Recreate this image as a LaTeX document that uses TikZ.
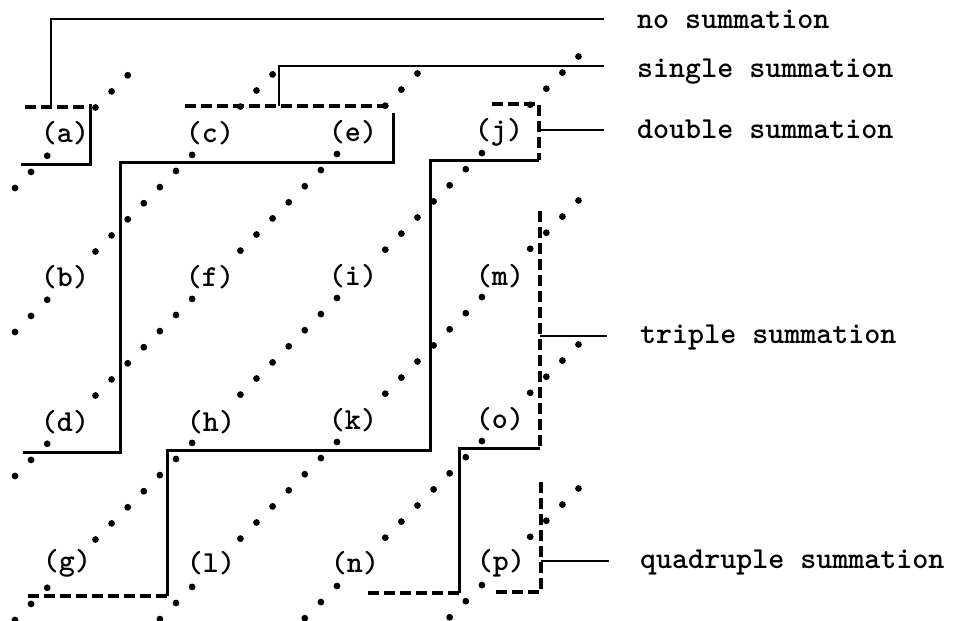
\documentclass[tikz,border=0pt]{standalone}
\newcommand\mylabfont{\ttfamily\bfseries\fontsize{30.5}{36}\selectfont}
\begin{document}
\begin{tikzpicture}[x=1pt,y=-1pt,
  rule/.style={line width=3pt},
  dashrule/.style={line width=3.1pt, dash pattern=on 11pt off 5pt},
  lead/.style={line width=2.6pt},
  lab/.style={font=\mylabfont, inner sep=0pt},
  leg/.style={font=\mylabfont, anchor=base west, inner sep=0pt}]
\fill[white] (0,0) rectangle (953,621);
\useasboundingbox (0,0) rectangle (953,621);

% diagonal dot lines
\foreach \k/\ja/\jb in {0/0/7, 1/0/16, 2/0/25, 3/0/35, 4/9/35, 5/18/35, 6/27/35} {
  \foreach \j in {\ja,...,\jb} {
    \pgfmathtruncatemacro\dm{mod(\j,9)}
    \pgfmathtruncatemacro\dc{int(\j/9)}
    \pgfmathtruncatemacro\dr{\k-\dc}
    \pgfmathtruncatemacro\dskip{((\dm==3)||(\dm==4))&&(\dr>=0)&&(\dr<=3)&&(\dc<=3) ? 1 : 0}
    \ifnum\dskip=0
      \fill ({15+16.1*\j},{188+144*\k-16.1*\j}) circle (3.4pt);
    \fi
  }
}

% labels
\node[lab] (a) at (65,133) {(a)};
\node[lab] (c) at (210,133) {(c)};
\node[lab] (e) at (353,132) {(e)};
\node[lab] (j) at (499,132) {(j)};
\node[lab] (b) at (65,277) {(b)};
\node[lab] (f) at (210,277) {(f)};
\node[lab] (i) at (353,276) {(i)};
\node[lab] (m) at (500,276) {(m)};
\node[lab] (d) at (65,422) {(d)};
\node[lab] (h) at (211,422) {(h)};
\node[lab] (k) at (353,420) {(k)};
\node[lab] (o) at (500,419) {(o)};
\node[lab] (g) at (67,563) {(g)};
\node[lab] (l) at (211,563) {(l)};
\node[lab] (n) at (355,563) {(n)};
\node[lab] (p) at (501,563) {(p)};

% legend
\node[leg] (L0) at (637,28) {no summation};
\node[leg] (L1) at (637,77) {single summation};
\node[leg] (L2) at (637,138) {double summation};
\node[leg] (L3) at (640,343) {triple summation};
\node[leg] (L4) at (640,568) {quadruple summation};
\coordinate (E0) at (604,19);
\coordinate (E1) at (604,66);
\coordinate (E2) at (604,130);
\coordinate (E3) at (607,336);
\coordinate (E4) at (609,561);

% no summation
\draw[dashrule] (25,107) -- (89,107);
\draw[rule] (90,104) -- (90,164) -- (21,164);
\draw[lead] (51,106) -- (51,19) -- (E0);

% single summation
\draw[dashrule] (185,106) -- (390,106);
\draw[lead] (279,106) -- (279,66) -- (E1);
\draw[rule] (393,113) -- (393,162) -- (120,162) -- (120,452) -- (23,452);

% double summation
\draw[dashrule] (492,104) -- (539,104) -- (539,160);
\draw[rule] (539,160) -- (430,160) -- (430,450) -- (167,450) -- (167,596);
\draw[dashrule] (167,596) -- (28,596);
\draw[lead] (539,130) -- (E2);

% triple summation
\draw[dashrule] (540,211) -- (540,448);
\draw[rule] (540,448) -- (459,448) -- (459,593);
\draw[dashrule] (459,593) -- (365,593);
\draw[lead] (540,336) -- (E3);

% quadruple summation
\draw[dashrule] (541,482) -- (541,592) -- (495,592);
\draw[lead] (541,561) -- (E4);
\end{tikzpicture}
\end{document}
